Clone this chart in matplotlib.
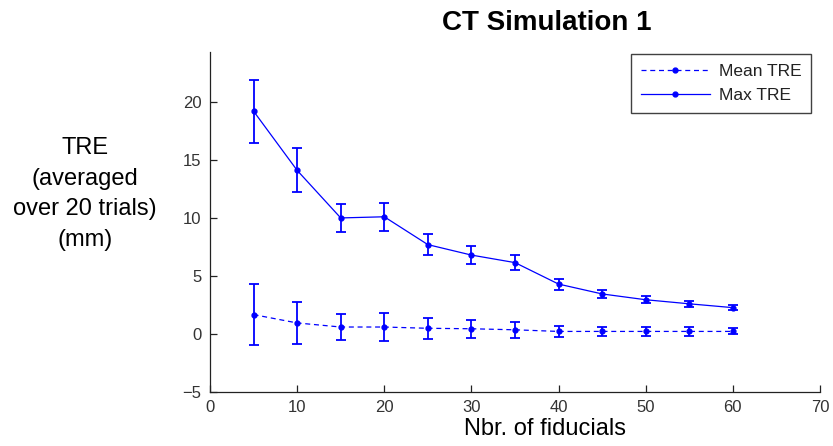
import matplotlib
matplotlib.use("Agg")
import matplotlib.pyplot as plt
from matplotlib.lines import Line2D

plt.rcParams["font.family"] = ["Liberation Sans", "DejaVu Sans"]

# ── data
n_fid = [5, 10, 15, 20, 25, 30, 35, 40, 45, 50, 55, 60]
mean_tre = [1.67, 0.95, 0.60, 0.60, 0.49, 0.45, 0.36, 0.22, 0.22, 0.22, 0.22, 0.22]
mean_err = [2.66, 1.84, 1.12, 1.19, 0.89, 0.77, 0.70, 0.46, 0.40, 0.40, 0.40, 0.26]
max_tre = [19.2, 14.1, 10.0, 10.1, 7.7, 6.8, 6.15, 4.3, 3.45, 2.95, 2.6, 2.27]
max_err = [2.7, 1.9, 1.2, 1.2, 0.9, 0.8, 0.63, 0.48, 0.38, 0.30, 0.28, 0.20]

blue = "#0000FF"

fig = plt.figure(figsize=(8.33, 4.46), dpi=100)
ax = fig.add_axes([210 / 833, 1 - 392 / 446, 610 / 833, 340 / 446])

ax.errorbar(n_fid, mean_tre, yerr=mean_err, color=blue, lw=0.9, ls=(0, (4, 3)),
            marker="o", ms=3.5, elinewidth=1.3, capsize=3.5, capthick=1.3)
ax.errorbar(n_fid, max_tre, yerr=max_err, color=blue, lw=0.9, ls="-",
            marker="o", ms=3.5, elinewidth=1.3, capsize=3.5, capthick=1.3)

ax.set_xlim(0, 70)
ax.set_ylim(-5, 24.3)
ax.set_xticks(range(0, 71, 10))
ax.set_yticks(range(-5, 21, 5))
for s in ["top", "right"]:
    ax.spines[s].set_visible(False)
for s in ["left", "bottom"]:
    ax.spines[s].set_color("#222222")
    ax.spines[s].set_linewidth(0.9)
ax.tick_params(direction="in", length=5, width=0.9, color="#222222",
               labelsize=12, labelcolor="#333333", pad=6)

# legend (MATLAB style box)
handles = [Line2D([], [], color=blue, lw=0.9, ls=(0, (4, 3)), marker="o", ms=3.5),
           Line2D([], [], color=blue, lw=0.9, ls="-", marker="o", ms=3.5)]
leg = ax.legend(handles, ["Mean TRE", "Max TRE"], loc="upper right",
                bbox_to_anchor=(811 / 833, 1 - 54 / 446), bbox_transform=fig.transFigure,
                fontsize=12.5, frameon=True, fancybox=False, handlelength=4.0,
                borderpad=0.55, labelspacing=0.55, handletextpad=0.5, borderaxespad=0)
leg.get_frame().set_edgecolor("#111111")
leg.get_frame().set_linewidth(1.0)
for t in leg.get_texts():
    t.set_color("#222222")

fig.text(547 / 833, 1 - 23 / 446, "CT Simulation 1", ha="center", va="center",
         fontsize=20, fontweight="bold")
fig.text(545 / 833, 1 - 429 / 446, "Nbr. of fiducials", ha="center", va="center",
         fontsize=17)
fig.text(85 / 833, 1 - 194 / 446, "TRE\n(averaged\nover 20 trials)\n(mm)",
         ha="center", va="center", fontsize=17, linespacing=1.5)

fig.savefig("out.png", dpi=100)
